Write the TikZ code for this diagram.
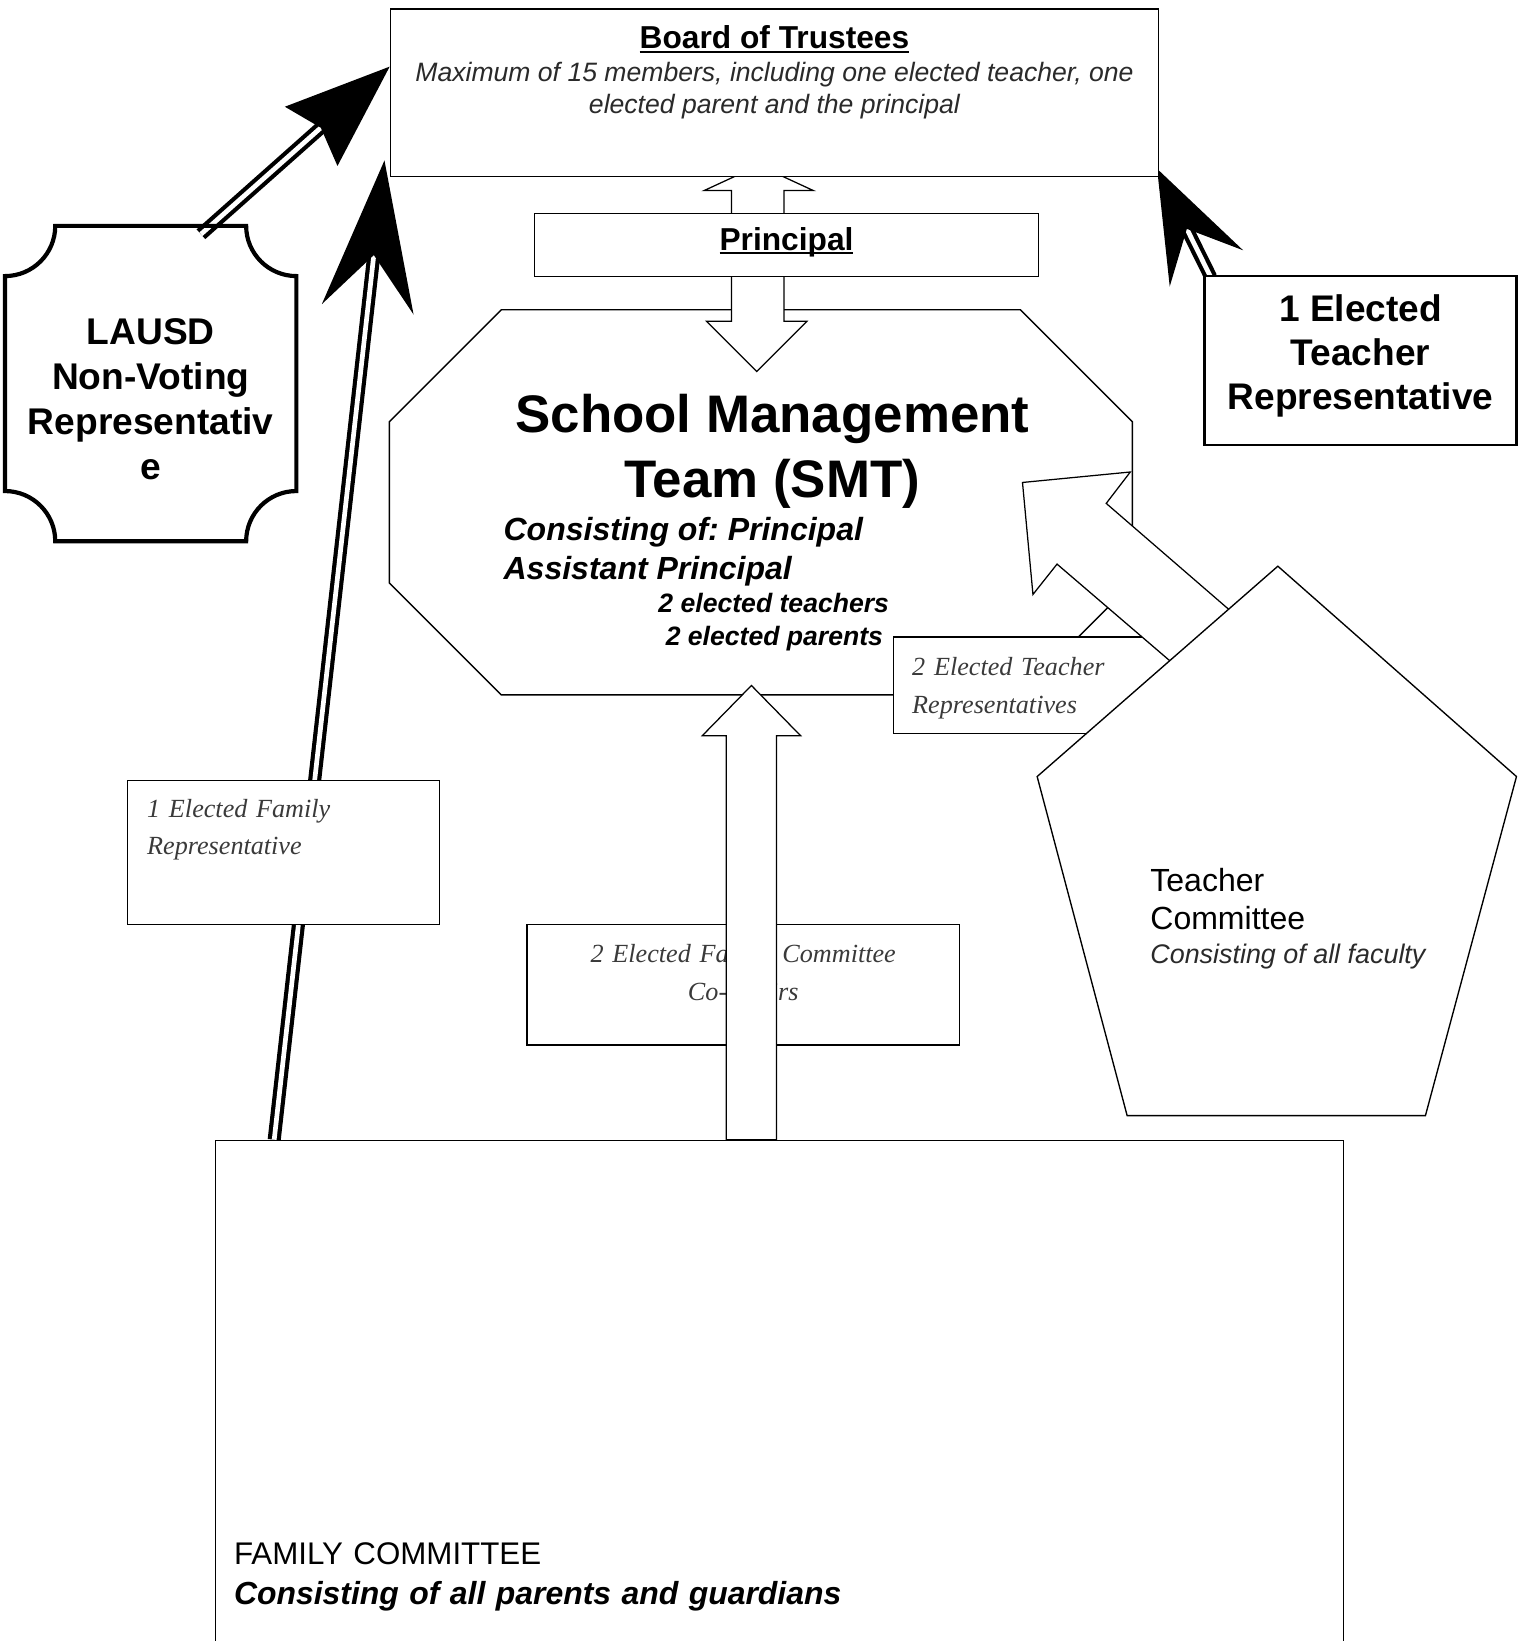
\documentclass[tikz,border=0pt]{standalone}
\usepackage{fontspec}
\setmainfont{Liberation Sans}
\newfontfamily\notefont{Liberation Serif}
\usetikzlibrary{arrows.meta,positioning,backgrounds}

\definecolor{notegray}{HTML}{3A3A3A}
\definecolor{descgray}{HTML}{2A2A2A}
\newcommand\setfs[2]{\fontsize{#1}{#2}\selectfont}
\newcommand\titleline[1]{\setbox0=\hbox{#1}\rlap{\rule[-4pt]{\wd0}{2pt}}\box0}
\frenchspacing

\tikzset{
box/.style={draw, fill=white, line width=1.3pt, inner sep=0pt},
blockarrow/.style={draw, fill=white, line width=1.2pt, line join=miter},
dblarrow/.style={double, double distance=4.5pt, line width=4pt},
note/.style={font=\notefont\itshape\setfs{25}{36}, text=notegray},
}

\begin{document}
\begin{tikzpicture}[x=1pt, y=-1pt]
\useasboundingbox (0,0) rectangle (1457,1568);

% school management team
\draw[box] (479,296) -- (975,296) -- (1082,403) -- (1082,557) -- (975,664)
  -- (479,664) -- (372,557) -- (372,403) -- cycle;
\node[font=\bfseries\setfs{50.5}{62}, align=center, text height=99pt, text depth=11pt] (smt) at (738,431)
  {School Management\\Team (SMT)};
\node[font=\bfseries\itshape\setfs{30.6}{31}, align=left, anchor=north west, inner sep=0pt] (smtmembers) at (481,494)
  {Consisting of: Principal\\[6pt]Assistant Principal\\[1pt]
   {\setfs{25.4}{31}\hspace*{148pt}2 elected teachers}\\
   {\setfs{25.4}{31}\hspace*{155pt}2 elected parents}};

% principal link
\draw[blockarrow] (725,158) -- (777,182) -- (749,182) -- (749,307) -- (771,307) -- (723,355)
  -- (675,307) -- (699,307) -- (699,182) -- (673,182) -- cycle;

\node[box, anchor=north, minimum width=734pt, text height=100pt, text depth=60pt,
  font=\itshape\setfs{25.4}{31}, text=descgray, align=center] (board) at (740,8)
  {{\upshape\bfseries\color{black}\setfs{30.3}{31}\titleline{Board of Trustees}}\\
   Maximum of 15 members, including one elected teacher, one\\
   elected parent and the principal};
\node[box, minimum width=481pt, minimum height=60pt, text height=22pt, text depth=12pt,
  font=\bfseries\setfs{30.3}{36}] (principal) at (751.5,234) {\titleline{Principal}};

% elected members
\node[box, note, anchor=north west, minimum width=272pt, inner xsep=18pt, text width=236pt,
  align=left, text height=37pt, text depth=55pt] (teachreps) at (853,608)
  {2 Elected Teacher\\Representatives};
\node[box, note, anchor=north west, inner xsep=10pt, text width=393pt,
  align=center, text height=36pt, text depth=79pt] (cochairs) at (503,883)
  {2 Elected Family Committee\\Co-Chairs};

\draw[blockarrow] (694,1089) -- (694,703) -- (671,703) -- (718,655) -- (765,703) -- (742,703)
  -- (742,1089) -- cycle;
\draw[blockarrow] (977,461) -- (1080,451) -- (1057,481) -- (1205,609) -- (1150,659)
  -- (1010,539) -- (987,568) -- cycle;

% teacher committee
\draw[box] (1221,541) -- (1449,742) -- (1362,1066) -- (1077,1066) -- (991,742) -- cycle;
\node[font=\setfs{30.6}{37}, align=left, anchor=north west, inner sep=0pt] (teachcom) at (1099,829)
  {Teacher\\Committee\\[-5pt]{\itshape\color{descgray}\setfs{25.7}{31}Consisting of all faculty}};

% representatives
\node[inner sep=0pt, minimum width=278pt, minimum height=301pt, text height=183pt, text depth=0pt,
  font=\bfseries\setfs{35.5}{43}, align=center] (lausd) at (144,366.5)
  {LAUSD\\Non-Voting\\Representativ\\e};
\draw[line width=4pt] ([xshift=48pt]lausd.north west) -- ([xshift=-48pt]lausd.north east)
  arc[start angle=180, end angle=90, radius=48] -- ([yshift=48pt]lausd.south east)
  arc[start angle=270, end angle=180, radius=48] -- ([xshift=48pt]lausd.south west)
  arc[start angle=0, end angle=-90, radius=48] -- ([yshift=-48pt]lausd.north west)
  arc[start angle=90, end angle=0, radius=48] -- cycle;

\node[box, line width=2.2pt, minimum width=298pt, minimum height=161pt, text height=110pt, text depth=17pt,
  font=\bfseries\setfs{35.4}{42}, align=center] (teachrep) at (1300,344.5)
  {1 Elected\\Teacher\\Representative};

\node[box, note, anchor=north west, inner xsep=19pt, text width=260pt, align=left,
  text height=35pt, text depth=103pt] (famrep) at (121,745)
  {1 Elected Family\\Representative};

% family committee
\node[box, anchor=north west, inner xsep=18pt, text width=1042pt, align=left,
  text height=405pt, text depth=138pt, font=\setfs{29.9}{38}] (famcom) at (205,1089)
  {FAMILY COMMITTEE\\{\bfseries\itshape\setfs{30.5}{38}Consisting of all parents and guardians}};

\begin{pgfonlayer}{background}
\draw[dblarrow, -{Stealth[length=100pt, width=75pt, inset=12pt]}]
  ([xshift=48pt, yshift=-8pt]lausd.north) -- ([yshift=25pt]board.west);
\draw[dblarrow, -{Stealth[length=143pt, width=88pt, inset=52pt]}]
  ([xshift=57pt]famcom.north west) -- ([xshift=-5pt, yshift=16pt]board.south west);
\draw[dblarrow, -{Stealth[length=106pt, width=78pt, inset=42pt]}]
  ([xshift=7pt, yshift=-2pt]teachrep.north west) -- ([xshift=-2pt, yshift=8pt]board.south east);
\end{pgfonlayer}

\end{tikzpicture}
\end{document}
